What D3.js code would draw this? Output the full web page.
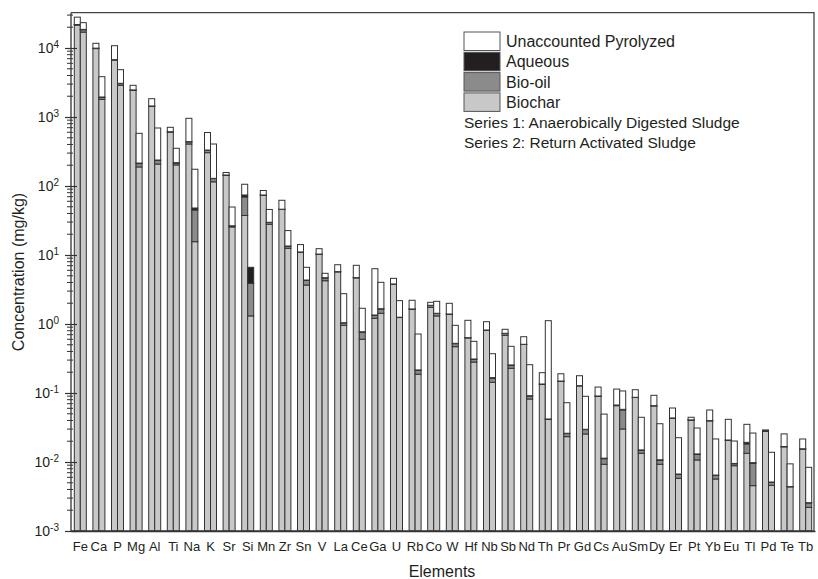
<!DOCTYPE html>
<html>
<head>
<meta charset="utf-8">
<script src="https://cdn.jsdelivr.net/npm/d3@7"></script>
<style>
  html, body { margin: 0; padding: 0; background: #fff; }
  svg { display: block; font-family: "Liberation Sans", Arial, sans-serif; }
</style>
</head>
<body>
<svg id="chart" width="818" height="579"></svg>
<script>
// Elements, in plotted order
const elements = ["Fe","Ca","P","Mg","Al","Ti","Na","K","Sr","Si","Mn","Zr","Sn","V","La","Ce","Ga","U","Rb","Co",
  "W","Hf","Nb","Sb","Nd","Th","Pr","Gd","Cs","Au","Sm","Dy","Er","Pt","Yb","Eu","Tl","Pd","Te","Tb"];

// Series 1: Anaerobically Digested Sludge (mg/kg)
const biochar1 = [21500,9800,6700,2440,1430,605,406,304,143,37.4,73.5,45.7,11,10.25,5.7,4.67,1.21,3.78,1.64,1.746,
  1.39,0.63,0.815,0.686,0.505,0.134,0.148,0.127,0.090,0.0655,0.086,0.065,0.0432,0.0405,0.0395,0.0207,0.01337,0.028,0.0166,0.0154];
const bioOil1 = [300,100,60,20,10,5,30,26,1,31.9,0.5,0.3,0.05,0.05,0.03,0.02,0.13,0.02,0.01,0.11,
  0.005,0.003,0.003,0.042,0.002,0.0007,0.0007,0.0005,0.0004,0.0012,0.0004,0.0004,0.0002,0.0002,0.0002,0.0001,0.0049,0.0001,0.0001,0.0001];
const aqueous1 = [100,50,20,10,5,2,3,2,0.3,4.8,0.1,0.1,0.02,0.02,0.01,0.01,0.01,0.005,0.003,0.01,
  0.002,0.001,0.001,0.005,0.001,0.0003,0.0003,0.0002,0.0001,0.0003,0.0002,0.0001,0.0001,0.0001,0.0001,0.00005,0.001,0.00005,0.00005,0.00005];
const unaccounted1 = [6100,1750,4020,410,397,97,518,264,12.7,31.9,12,16,3.1,2.03,1.49,2.39,4.98,0.785,0.555,0.197,
  0.598,0.497,0.261,0.105,0.146,0.062,0.041,0.0503,0.0315,0.047,0.025,0.0271,0.0171,0.0037,0.0169,0.0207,0.0159,0.001,0.0088,0.0060];

// Series 2: Return Activated Sludge (mg/kg)
const biochar2 = [17000,1800,2880,189,208,202,15.6,115,25.5,1.31,27.9,12.5,3.67,4.24,0.957,0.600,1.43,1.24,0.187,1.31,
  0.469,0.281,0.143,0.228,0.0819,0.0416,0.0233,0.0255,0.00927,0.0301,0.01337,0.00927,0.0058,0.0107,0.00567,0.00884,0.00454,0.00459,0.00437,0.0022];
const bioOil2 = [1400,120,170,22,26,13,29.3,13,0.8,2.58,1.7,0.9,0.6,0.4,0.08,0.163,0.22,0.01,0.026,0.11,
  0.05,0.027,0.021,0.024,0.0085,0.0003,0.0025,0.004,0.0019,0.0266,0.0014,0.0013,0.0008,0.0022,0.0007,0.0006,0.00504,0.0005,0.00002,0.00035];
const aqueous2 = [200,30,30,4,4,3,3.1,1,0.2,2.74,0.2,0.1,0.07,0.05,0.007,0.01,0.016,0.005,0.003,0.01,
  0.006,0.003,0.003,0.003,0.001,0.0001,0.0003,0.0003,0.0002,0.0013,0.0002,0.0002,0.0001,0.0002,0.0001,0.0001,0.0002,0.00004,0.00001,0.00002];
const unaccounted2 = [4700,1890,1770,365,455,134,127,277,23.1,0,15.9,9.1,2.29,0.74,1.706,0.916,2.354,0.925,0.5,0.703,
  0.432,0.25,0.204,0.22,0.1656,1.075,0.0462,0.0598,0.0381,0.049,0.0295,0.0251,0.0158,0.018,0.0151,0.0106,0.0165,0.0087,0.0050,0.0058];

const yMajors = [1e-3, 1e-2, 1e-1, 1e0, 1e1, 1e2, 1e3, 1e4];
const yExps = [-3, -2, -1, 0, 1, 2, 3, 4];

const legendItems = ["Unaccounted Pyrolyzed", "Aqueous", "Bio-oil", "Biochar"];
const legendNotes = ["Series 1: Anaerobically Digested Sludge", "Series 2: Return Activated Sludge"];

const colors = { biochar: "#c8c8c8", bioOil: "#8b8b8b", aqueous: "#231f20", unaccounted: "#ffffff" };
const legendColors = [colors.unaccounted, colors.aqueous, colors.bioOil, colors.biochar];
const ink = "#231f20";

const svg = d3.select("#chart");

const plotLeft = 71, plotRight = 814, plotTop = 12.7, plotBottom = 531;

const y = d3.scaleLog().domain([1e-3, 1e4]).range([plotBottom, 48]);
const x = d3.scaleBand().domain(elements).range([plotLeft, 815]).padding(0);
const barW = 6;

// Bars: stack the four fractions from the bottom up
function drawSeries(parts, offset) {
  elements.forEach((el, i) => {
    const cx = x(el) + x.bandwidth() / 2;
    const fills = [colors.biochar, colors.bioOil, colors.aqueous, colors.unaccounted];
    let top = 0;
    parts.forEach((arr, k) => {
      const v = arr[i];
      const lo = k === 0 ? 1e-3 : top;
      const hi = k === 0 ? v : top + v;
      top = hi;
      if (v <= 0) return;
      svg.append("rect")
        .attr("x", cx + offset)
        .attr("y", y(hi))
        .attr("width", barW)
        .attr("height", Math.max(0, y(lo) - y(hi)))
        .attr("fill", fills[k])
        .attr("stroke", "#333")
        .attr("stroke-width", 1);
    });
  });
}

drawSeries([biochar1, bioOil1, aqueous1, unaccounted1], -barW);
drawSeries([biochar2, bioOil2, aqueous2, unaccounted2], 0);

// Frame (top, right, bottom lines)
svg.append("path")
  .attr("d", `M${plotLeft},${plotTop}H${plotRight}V${plotBottom}H${plotLeft}`)
  .attr("fill", "none")
  .attr("stroke", "#444")
  .attr("stroke-width", 1.3);

// Minor ticks on the log axis
const minors = [];
for (let e = -3; e < 4; e++) for (let m = 2; m <= 9; m++) minors.push(m * Math.pow(10, e));
for (let m = 2; m <= 3; m++) minors.push(m * 1e4);
svg.append("g").selectAll("line").data(minors).join("line")
  .attr("x1", plotLeft - 4).attr("x2", plotLeft + 2)
  .attr("y1", d => y(d)).attr("y2", d => y(d))
  .attr("stroke", "#333").attr("stroke-width", 1);

// Left axis with major ticks crossing the spine
const yAxis = d3.axisLeft(y).tickValues(yMajors).tickFormat("").tickSize(6).tickSizeOuter(0);
const yg = svg.append("g").attr("transform", `translate(${plotLeft},0)`).call(yAxis);
yg.select(".domain").attr("d", `M0,${plotTop}V${plotBottom}`).attr("stroke", "#333").attr("stroke-width", 1.3);
yg.selectAll(".tick line").attr("x1", 6).attr("stroke", "#333").attr("stroke-width", 1.2);
yg.selectAll(".tick").each(function(d, i) {
  const t = d3.select(this).append("text")
    .attr("x", -12).attr("dy", "0.35em")
    .attr("text-anchor", "end")
    .attr("fill", ink)
    .style("font-size", "14px");
  t.append("tspan").text("10");
  t.append("tspan").attr("dy", "-0.55em").style("font-size", "10px").text(String(yExps[i]));
});

// Bottom axis labels
const xAxis = d3.axisBottom(x).tickSize(0).tickPadding(0);
const xg = svg.append("g").attr("transform", `translate(0,${plotBottom})`).call(xAxis);
xg.select(".domain").attr("stroke", "#333").attr("stroke-width", 1.3);
xg.selectAll(".tick text")
  .attr("y", 20).attr("dy", 0)
  .attr("fill", ink)
  .style("font-size", "13px")
  .style("font-family", "Liberation Sans, Arial, sans-serif");

// Axis titles
svg.append("text")
  .attr("x", 442).attr("y", 577)
  .attr("text-anchor", "middle")
  .attr("fill", ink)
  .style("font-size", "16px")
  .text("Elements");

svg.append("text")
  .attr("transform", "translate(24,272) rotate(-90)")
  .attr("text-anchor", "middle")
  .attr("fill", ink)
  .style("font-size", "16px")
  .text("Concentration (mg/kg)");

// Legend
const lg = svg.append("g").attr("transform", "translate(464,32)");
legendItems.forEach((name, i) => {
  lg.append("rect")
    .attr("x", 0).attr("y", i * 20.3)
    .attr("width", 36).attr("height", 18.5)
    .attr("fill", legendColors[i])
    .attr("stroke", "#555").attr("stroke-width", 1);
  lg.append("text")
    .attr("x", 42).attr("y", i * 20.3 + 15)
    .attr("fill", ink)
    .style("font-size", "16px")
    .text(name);
});
legendNotes.forEach((note, i) => {
  lg.append("text")
    .attr("x", 0).attr("y", 96 + i * 19.5)
    .attr("fill", ink)
    .style("font-size", "15.5px")
    .text(note);
});
</script>
</body>
</html>
